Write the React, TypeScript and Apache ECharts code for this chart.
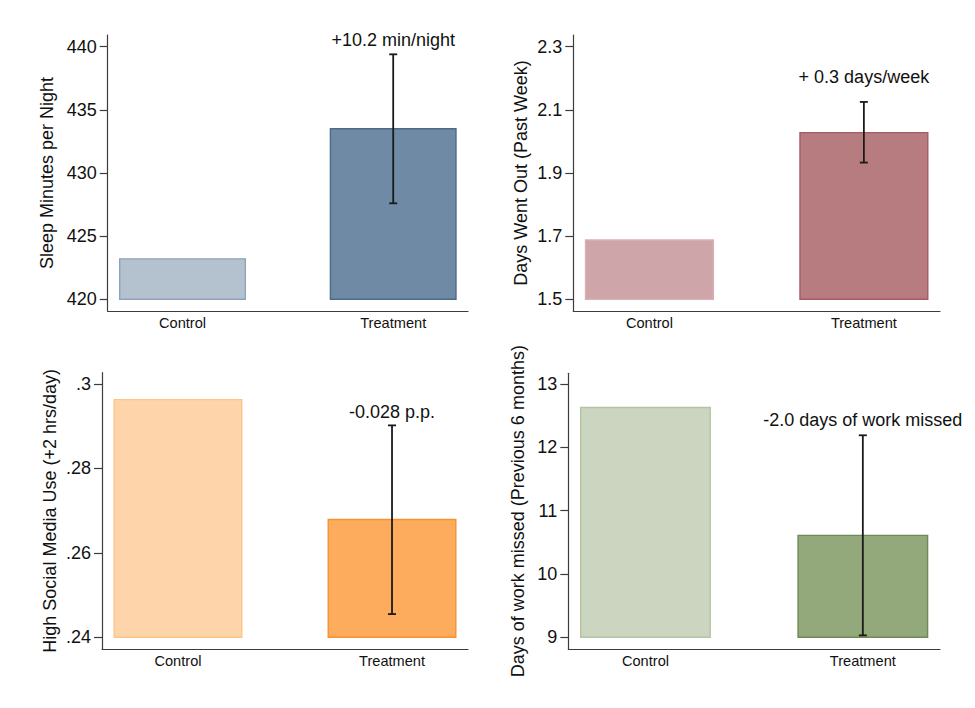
import React, { useEffect, useRef } from "react";
import * as echarts from "echarts";

// Group labels shared by every panel
const categories = ["Control", "Treatment"];

// Sleep minutes per night
const sleepMeans = [423.2, 433.5];
const sleepCI = [427.6, 439.4];
const sleepTicks = [420, 425, 430, 435, 440];

// Days went out in the past week
const outMeans = [1.688, 2.028];
const outCI = [1.933, 2.125];
const outTicks = [1.5, 1.7, 1.9, 2.1, 2.3];

// Share with high social media use
const socialMeans = [0.2963, 0.2679];
const socialCI = [0.2455, 0.2902];
const socialTicks = [0.24, 0.26, 0.28, 0.3];

// Days of work missed in the previous 6 months
const workMeans = [12.63, 10.61];
const workCI = [9.03, 12.19];
const workTicks = [9, 10, 11, 12, 13];

const FONT = "'Liberation Sans', Arial, Helvetica, sans-serif";
const AXIS_COLOR = "#3c3c3c";
const HALF_BAR = 0.298;

type Panel = {
  title: string;
  note: string;
  noteAt: number;
  means: number[];
  ci: number[];
  ticks: number[];
  min: number;
  max: number;
  tickFmt: (v: number) => string;
  fills: string[];
  strokes: string[];
  grid: { left: number; top: number; width: number; height: number };
  nameGap: number;
};

const dropZero = (v: number) => String(v).replace(/^0\./, ".");

const panels: Panel[] = [
  {
    title: "Sleep Minutes per Night",
    note: "+10.2 min/night",
    noteAt: 440.5,
    means: sleepMeans,
    ci: sleepCI,
    ticks: sleepTicks,
    min: 419.07,
    max: 440.93,
    tickFmt: (v) => String(v),
    fills: ["#b4c2d0", "#6e8aa5"],
    strokes: ["#8ea3b9", "#4d6a8a"],
    grid: { left: 107.7, top: 35, width: 360.3, height: 276 },
    nameGap: 52,
  },
  {
    title: "Days Went Out (Past Week)",
    note: "+ 0.3 days/week",
    noteAt: 2.204,
    means: outMeans,
    ci: outCI,
    ticks: outTicks,
    min: 1.463,
    max: 2.337,
    tickFmt: (v) => v.toFixed(1),
    fills: ["#cea5a9", "#b77c80"],
    strokes: ["#dbaeb2", "#a85b63"],
    grid: { left: 573.3, top: 35, width: 366.7, height: 276 },
    nameGap: 43,
  },
  {
    title: "High Social Media Use (+2 hrs/day)",
    note: "-0.028 p.p.",
    noteAt: 0.2934,
    means: socialMeans,
    ci: socialCI,
    ticks: socialTicks,
    min: 0.23723,
    max: 0.30268,
    tickFmt: dropZero,
    fills: ["#fed5ab", "#fdab5c"],
    strokes: ["#fdc488", "#f7922f"],
    grid: { left: 102, top: 372.7, width: 366, height: 276.3 },
    nameGap: 43,
  },
  {
    title: "Days of work missed (Previous 6 months)",
    note: "-2.0 days of work missed",
    noteAt: 12.43,
    means: workMeans,
    ci: workCI,
    ticks: workTicks,
    min: 8.815,
    max: 13.169,
    tickFmt: (v) => String(v),
    fills: ["#cbd5bf", "#93a87b"],
    strokes: ["#b3c4a2", "#6f8b55"],
    grid: { left: 568.3, top: 373.3, width: 371.7, height: 275.7 },
    nameGap: 41,
  },
];

function buildOption() {
  const grid: any[] = [];
  const xAxis: any[] = [];
  const yAxis: any[] = [];
  const series: any[] = [];

  panels.forEach((p, i) => {
    grid.push({ ...p.grid, containLabel: false });

    xAxis.push({
      type: "value",
      gridIndex: i,
      min: -0.355,
      max: 1.355,
      splitLine: { show: false },
      axisTick: { show: false },
      axisLine: { show: true, onZero: false, lineStyle: { color: AXIS_COLOR, width: 1.2 } },
      axisLabel: {
        customValues: [0, 1],
        formatter: (v: number) => categories[Math.round(v)] ?? "",
        fontFamily: FONT,
        fontSize: 14.6,
        color: "#111",
        margin: 4,
      },
    });

    yAxis.push({
      type: "value",
      gridIndex: i,
      min: p.min,
      max: p.max,
      name: p.title,
      nameLocation: "middle",
      nameGap: p.nameGap,
      nameTextStyle: { fontFamily: FONT, fontSize: 18, color: "#111" },
      splitLine: { show: false },
      axisLine: { show: true, onZero: false, lineStyle: { color: AXIS_COLOR, width: 1.2 } },
      axisTick: {
        show: true,
        length: 8,
        customValues: p.ticks,
        lineStyle: { color: AXIS_COLOR, width: 1.2 },
      },
      axisLabel: {
        customValues: p.ticks,
        formatter: (v: number) => p.tickFmt(v),
        fontFamily: FONT,
        fontSize: 18,
        color: "#111",
        margin: 11,
      },
    });

    const base = p.ticks[0];

    // Group means, drawn up from the lowest tick
    series.push({
      type: "custom",
      xAxisIndex: i,
      yAxisIndex: i,
      clip: false,
      data: p.means.map((m, k) => [k, m]),
      renderItem: (params: any, api: any) => {
        const k = params.dataIndex;
        const x = api.value(0);
        const v = api.value(1);
        const a = api.coord([x - HALF_BAR, base]);
        const b = api.coord([x + HALF_BAR, v]);
        return {
          type: "rect",
          shape: { x: a[0], y: b[1], width: b[0] - a[0], height: a[1] - b[1] },
          style: { fill: p.fills[k], stroke: p.strokes[k], lineWidth: 1.4 },
        };
      },
    });

    // Confidence interval on the treatment group
    series.push({
      type: "custom",
      xAxisIndex: i,
      yAxisIndex: i,
      clip: false,
      data: [[1, p.ci[0], p.ci[1]]],
      renderItem: (_params: any, api: any) => {
        const x = api.value(0);
        const lo = api.coord([x, api.value(1)]);
        const hi = api.coord([x, api.value(2)]);
        const cap = 4;
        const ls = { stroke: "#1a1a1a", lineWidth: 1.8 };
        return {
          type: "group",
          children: [
            { type: "line", shape: { x1: lo[0], y1: lo[1], x2: hi[0], y2: hi[1] }, style: ls },
            { type: "line", shape: { x1: lo[0] - cap, y1: lo[1], x2: lo[0] + cap, y2: lo[1] }, style: ls },
            { type: "line", shape: { x1: hi[0] - cap, y1: hi[1], x2: hi[0] + cap, y2: hi[1] }, style: ls },
          ],
        };
      },
    });

    // Treatment effect note above the treatment bar
    series.push({
      type: "custom",
      xAxisIndex: i,
      yAxisIndex: i,
      clip: false,
      data: [[1, p.noteAt]],
      renderItem: (_params: any, api: any) => {
        const pt = api.coord([api.value(0), api.value(1)]);
        return {
          type: "text",
          x: pt[0],
          y: pt[1],
          style: {
            text: p.note,
            fontFamily: FONT,
            fontSize: 18,
            fill: "#111",
            align: "center",
            verticalAlign: "middle",
          },
        };
      },
    });
  });

  return {
    animation: false,
    backgroundColor: "#ffffff",
    grid,
    xAxis,
    yAxis,
    series,
  };
}

export default function App() {
  const ref = useRef<HTMLDivElement>(null);

  useEffect(() => {
    if (!ref.current) return;
    const chart = echarts.init(ref.current, undefined, { renderer: "svg" });
    chart.setOption(buildOption());
    return () => chart.dispose();
  }, []);

  return (
    <div
      ref={ref}
      style={{ position: "fixed", left: 0, top: 0, width: 975, height: 708, background: "#fff" }}
    />
  );
}
